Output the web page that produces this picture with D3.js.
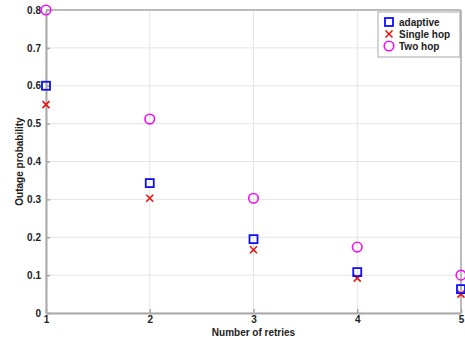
<!DOCTYPE html>
<html>
<head>
<meta charset="utf-8">
<script src="https://cdn.jsdelivr.net/npm/d3@7"></script>
<style>
body { margin: 0; background: #fff; }
text { font-family: Arial, "Liberation Sans", sans-serif; font-weight: bold; }
</style>
</head>
<body>
<script>
// chart data
var retries = [1, 2, 3, 4, 5];
var adaptive = [0.60, 0.343, 0.195, 0.108, 0.063];
var singleHop = [0.55, 0.303, 0.167, 0.092, 0.050];
var twoHop = [0.80, 0.512, 0.303, 0.174, 0.100];
var yTicks = [0, 0.1, 0.2, 0.3, 0.4, 0.5, 0.6, 0.7, 0.8];
var legendNames = ["adaptive", "Single hop", "Two hop"];

// plot box (window.top is taken, so prefixed names)
var width = 465, height = 339;
var plotL = 46, plotR = 461, plotT = 10, plotB = 313;

var svg = d3.select("body").append("svg")
    .attr("width", width)
    .attr("height", height);

var x = d3.scaleLinear().domain([1, 5]).range([plotL, plotR]);
var y = d3.scaleLinear().domain([0, 0.8]).range([plotB, plotT]);

// grid
svg.append("g").selectAll("line")
    .data(retries)
    .enter().append("line")
    .attr("x1", function(d) { return x(d); })
    .attr("x2", function(d) { return x(d); })
    .attr("y1", plotT).attr("y2", plotB)
    .attr("stroke", "#e4e4e4").attr("stroke-width", 1);
svg.append("g").selectAll("line")
    .data(yTicks)
    .enter().append("line")
    .attr("x1", plotL).attr("x2", plotR)
    .attr("y1", function(d) { return y(d); })
    .attr("y2", function(d) { return y(d); })
    .attr("stroke", "#e4e4e4").attr("stroke-width", 1);

// axes
var xAxis = svg.append("g")
    .attr("transform", "translate(0," + plotB + ")")
    .call(d3.axisBottom(x).tickValues(retries).tickFormat(d3.format("d")).tickSizeInner(-4).tickSizeOuter(0).tickPadding(3));
var yAxis = svg.append("g")
    .attr("transform", "translate(" + plotL + ",0)")
    .call(d3.axisLeft(y).tickValues(yTicks).tickFormat(function(d) { return d === 0 ? "0" : d3.format(".1f")(d); }).tickSizeInner(-4).tickSizeOuter(0).tickPadding(5));
[xAxis, yAxis].forEach(function(a) {
    a.selectAll("path, line").attr("stroke", "#a8a8a8").attr("stroke-width", 1.5);
    a.selectAll("text").attr("font-size", "10px").attr("fill", "#222");
});
yAxis.select(".domain").attr("stroke-width", 2);
xAxis.select(".domain").attr("stroke-width", 2);

// top and right box edges
svg.append("line").attr("x1", plotL).attr("x2", plotR).attr("y1", plotT).attr("y2", plotT)
    .attr("stroke", "#a8a8a8").attr("stroke-width", 1.5);
svg.append("line").attr("x1", plotR).attr("x2", plotR).attr("y1", plotT).attr("y2", plotB)
    .attr("stroke", "#a8a8a8").attr("stroke-width", 1.5);

// axis titles
svg.append("text")
    .attr("x", x(3)).attr("y", 336)
    .attr("text-anchor", "middle")
    .attr("font-size", "10px").attr("fill", "#222")
    .text("Number of retries");
svg.append("text")
    .attr("transform", "translate(23," + y(0.4) + ") rotate(-90)")
    .attr("text-anchor", "middle")
    .attr("font-size", "10px").attr("fill", "#222")
    .text("Outage probability");

// marker drawers
function drawSquare(g, cx, cy) {
    g.append("rect").attr("x", cx - 4).attr("y", cy - 4).attr("width", 8).attr("height", 8)
        .attr("fill", "none").attr("stroke", "#1010ee").attr("stroke-width", 1.8);
}
function drawCross(g, cx, cy) {
    g.append("path").attr("d", "M" + (cx - 3.5) + "," + (cy - 3.5) + "L" + (cx + 3.5) + "," + (cy + 3.5) +
        "M" + (cx - 3.5) + "," + (cy + 3.5) + "L" + (cx + 3.5) + "," + (cy - 3.5))
        .attr("stroke", "#ee1111").attr("stroke-width", 1.6).attr("fill", "none");
}
function drawCircle(g, cx, cy) {
    g.append("circle").attr("cx", cx).attr("cy", cy).attr("r", 4.8)
        .attr("fill", "none").attr("stroke", "#ee11ee").attr("stroke-width", 1.6);
}

var marks = svg.append("g");
retries.forEach(function(r, i) {
    drawCircle(marks, x(r), y(twoHop[i]));
    drawCross(marks, x(r), y(singleHop[i]));
    drawSquare(marks, x(r), y(adaptive[i]));
});

// legend
var legend = svg.append("g");
legend.append("rect")
    .attr("x", 378).attr("y", 12).attr("width", 82).attr("height", 45)
    .attr("fill", "#fff").attr("stroke", "#a8a8a8").attr("stroke-width", 1);
var drawers = [drawSquare, drawCross, drawCircle];
legendNames.forEach(function(name, i) {
    var ly = 22 + i * 12;
    drawers[i](legend, 389, ly);
    legend.append("text")
        .attr("x", 399).attr("y", ly + 3.5)
        .attr("font-size", "10px").attr("fill", "#222")
        .text(name);
});
</script>
</body>
</html>
